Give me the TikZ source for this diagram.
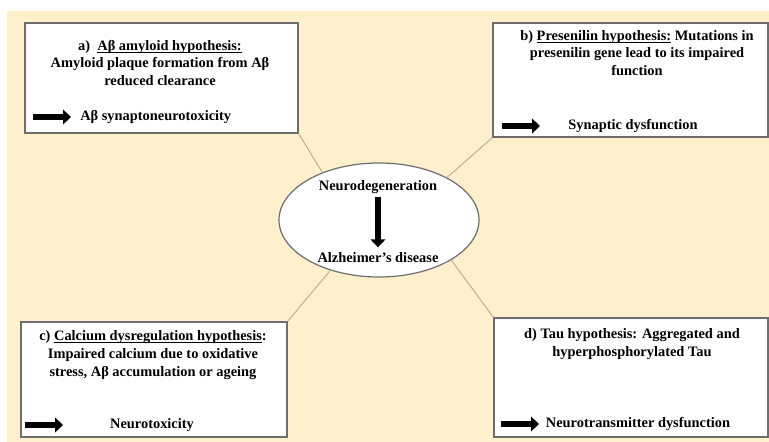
\documentclass[tikz,border=0pt]{standalone}
\usepackage{fontspec}
\setmainfont{Liberation Serif}
\usepackage{tikz}
\usetikzlibrary{arrows.meta}
\usetikzlibrary{shapes.geometric}
\usetikzlibrary{fit}
\definecolor{bgBeige}{RGB}{254,240,205}
\definecolor{linkTan}{RGB}{188,174,138}
\definecolor{boxGray}{RGB}{110,110,110}
\newcommand{\hypUnder}[1]{\underline{\smash{#1}}}

\begin{document}
\begin{tikzpicture}[x=0.75pt,y=-0.75pt,
        hypBox/.style={draw=boxGray, line width=1.1pt, fill=white, inner sep=0pt},
        hypText/.style={align=center, inner sep=0pt, font=\fontsize{10.8}{13.2}\selectfont\bfseries},
        resText/.style={inner sep=0pt, font=\fontsize{10.8}{13.2}\selectfont\bfseries},
        blockArrow/.style={line width=4.5pt, -{Triangle[length=6pt,width=11pt]}},
        link/.style={draw=linkTan, line width=0.7pt}]
        \def\arrLen{38}

        \useasboundingbox (0,0) rectangle (769,442);
        \fill[bgBeige] (7,11) rectangle (769,442);

        \node[hypBox, fit={(25,23) (298,133)}] (boxA) {};
        \node[hypBox, fit={(493,23) (768,137)}] (boxB) {};
        \node[hypBox, fit={(21,322) (287,437)}] (boxC) {};
        \node[hypBox, fit={(494,318) (768,437)}] (boxD) {};
        \node[ellipse, draw=boxGray, line width=0.9pt, fill=white, minimum width=150pt, minimum height=85.5pt] (core) at (379,220) {};

        \draw[link] (boxA.south east) -- (core.140);
        \draw[link] (boxB.south west) -- (core.32);
        \draw[link] (boxC.north east) -- (core.226);
        \draw[link] (boxD.north west) -- (core.331);

        \node[hypText] (txtA) at (160,63) {a)~~\hypUnder{Aβ amyloid hypothesis:}\\ Amyloid plaque formation from Aβ\\ reduced clearance};
        \node[hypText] (txtB) at (637,53) {b) \hypUnder{Presenilin hypothesis:} Mutations in\\ presenilin gene lead to its impaired\\ function};
        \node[hypText] (txtC) at (153,355) {c) \hypUnder{Calcium dysregulation hypothesis}:\\ Impaired calcium due to oxidative\\ stress, Aβ accumulation or ageing};
        \node[hypText] (txtD) at (632,344) {d) Tau hypothesis: Aggregated and\\ hyperphosphorylated Tau};

        \node[resText, anchor=west] (resA) at (80,117) {Aβ synaptoneurotoxicity};
        \node[resText] (resB) at (633,126) {Synaptic dysfunction};
        \node[resText] (resC) at (152,425) {Neurotoxicity};
        \node[resText] (resD) at (638,424) {Neurotransmitter dysfunction};

        \coordinate (arrA) at (33,117);
        \coordinate (arrB) at (502,126);
        \coordinate (arrC) at (25,425);
        \coordinate (arrD) at (501,424);
        \draw[blockArrow] (arrA) -- +(\arrLen,0);
        \draw[blockArrow] (arrB) -- +(\arrLen,0);
        \draw[blockArrow] (arrC) -- +(\arrLen,0);
        \draw[blockArrow] (arrD) -- +(\arrLen,0);

        \node[resText] (neuro) at (378,187) {Neurodegeneration};
        \node[resText] (alz) at (378,258) {Alzheimer's disease};
        \draw[blockArrow, shorten <=2pt, shorten >=4pt] (neuro) -- (alz);
    \end{tikzpicture}
\end{document}
